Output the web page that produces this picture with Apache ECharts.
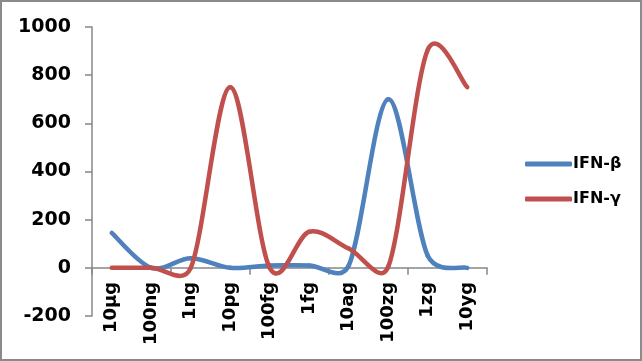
<!DOCTYPE html>
<html>
<head>
<meta charset="utf-8">
<script src="https://cdn.jsdelivr.net/npm/echarts@6/dist/echarts.min.js"></script>
<style>
html,body{margin:0;padding:0;background:#fff;}
#wrap{position:relative;width:642px;height:361px;}
#chart{position:absolute;left:0;top:0;width:642px;height:361px;}
#frame{position:absolute;left:0;top:0;width:642px;height:361px;box-sizing:border-box;border:2px solid #8a8a8a;pointer-events:none;}
</style>
</head>
<body>
<div id="wrap"><div id="chart"></div><div id="frame"></div></div>
<script>
const categories = ['10µg','100ng','1ng','10pg','100fg','1fg','10ag','100zg','1zg','10yg'];
const ifnBeta = [145, 0, 40, 0, 10, 10, 10, 700, 50, 0];
const ifnGamma = [0, 0, 0, 750, 0, 150, 80, 5, 905, 750];
const yMin = -200, yMax = 1000, yInterval = 200;

const font = 'DejaVu Sans';

// Excel-like smoothed line drawn through the axes' own coordinate mapping.
function smoothRenderer(values, color) {
  return function (params, api) {
    const i = params.dataIndex;
    const n = values.length;
    if (i >= n - 1) return null;
    const P = k => api.coord([Math.max(0, Math.min(n - 1, k)), values[Math.max(0, Math.min(n - 1, k))]]);
    const p0 = P(i - 1), p1 = P(i), p2 = P(i + 1), p3 = P(i + 2);
    const dist = (a, b) => Math.hypot(b[0] - a[0], b[1] - a[1]);
    const d12 = dist(p1, p2);
    function ctrl(base, a, b, sign) {
      const tx = b[0] - a[0], ty = b[1] - a[1];
      const tl = Math.hypot(tx, ty);
      if (tl === 0) return base.slice();
      const off = Math.min(tl / 6, d12 / 2);
      return [base[0] + sign * tx / tl * off, base[1] + sign * ty / tl * off];
    }
    const c1 = ctrl(p1, p0, p2, 1);
    const c2 = ctrl(p2, p1, p3, -1);
    return {
      type: 'bezierCurve',
      shape: {x1: p1[0], y1: p1[1], x2: p2[0], y2: p2[1], cpx1: c1[0], cpy1: c1[1], cpx2: c2[0], cpy2: c2[1]},
      style: {stroke: color, lineWidth: 4.5, fill: null, lineCap: 'round'},
      silent: true
    };
  };
}

// Category labels placed at each category on the zero line, reading bottom-to-top.
function categoryLabelRenderer(params, api) {
  const i = params.dataIndex;
  const p = api.coord([i, 0]);
  return {
    type: 'text', x: p[0], y: p[1] + 14, rotation: Math.PI / 2, silent: true,
    style: {text: categories[i], align: 'right', verticalAlign: 'middle',
      font: 'bold 18px "DejaVu Sans"', fill: '#000'}
  };
}

const chart = echarts.init(document.getElementById('chart'), null, {renderer: 'canvas'});
chart.setOption({
  animation: false,
  backgroundColor: '#ffffff',
  grid: {left: 92, right: 155, top: 27, bottom: 45, containLabel: false, outerBoundsMode: 'none'},
  legend: {
    orient: 'vertical', left: 520, top: 151, itemWidth: 47, itemHeight: 5, itemGap: 19,
    icon: 'roundRect',
    textStyle: {fontFamily: font, fontWeight: 'bold', fontSize: 16, color: '#000', padding: [0,0,0,-4]},
    data: ['IFN-β', 'IFN-γ']
  },
  xAxis: {
    type: 'category', data: categories, boundaryGap: true,
    axisLine: {onZero: true, lineStyle: {color: '#878787', width: 1.5}},
    axisTick: {show: true, length: 7, inside: false, lineStyle: {color: '#878787', width: 1.5}},
    axisLabel: {show: false},
    splitLine: {show: false}
  },
  yAxis: {
    type: 'value', min: yMin, max: yMax, interval: yInterval,
    axisLine: {show: true, lineStyle: {color: '#878787', width: 1.5}},
    axisTick: {show: true, length: 7, lineStyle: {color: '#878787', width: 1.5}},
    axisLabel: {margin: 21, fontFamily: font, fontWeight: 'bold', fontSize: 19, color: '#000', formatter: v => String(v)},
    splitLine: {show: false}
  },
  series: [
    {name: 'IFN-β', type: 'custom', data: ifnBeta.map((v, i) => [i, v]), encode: {x: 0, y: 1},
     itemStyle: {color: '#4f81bd'}, renderItem: smoothRenderer(ifnBeta, '#4f81bd'), clip: false},
    {name: 'IFN-γ', type: 'custom', data: ifnGamma.map((v, i) => [i, v]), encode: {x: 0, y: 1},
     itemStyle: {color: '#c0504d'}, renderItem: smoothRenderer(ifnGamma, '#c0504d'), clip: false},
    {name: 'categoryLabels', type: 'custom', data: categories.map((c, i) => [i, 0]), encode: {x: 0, y: 1},
     renderItem: categoryLabelRenderer, clip: false, silent: true, z: 5}
  ]
});
</script>
</body>
</html>
